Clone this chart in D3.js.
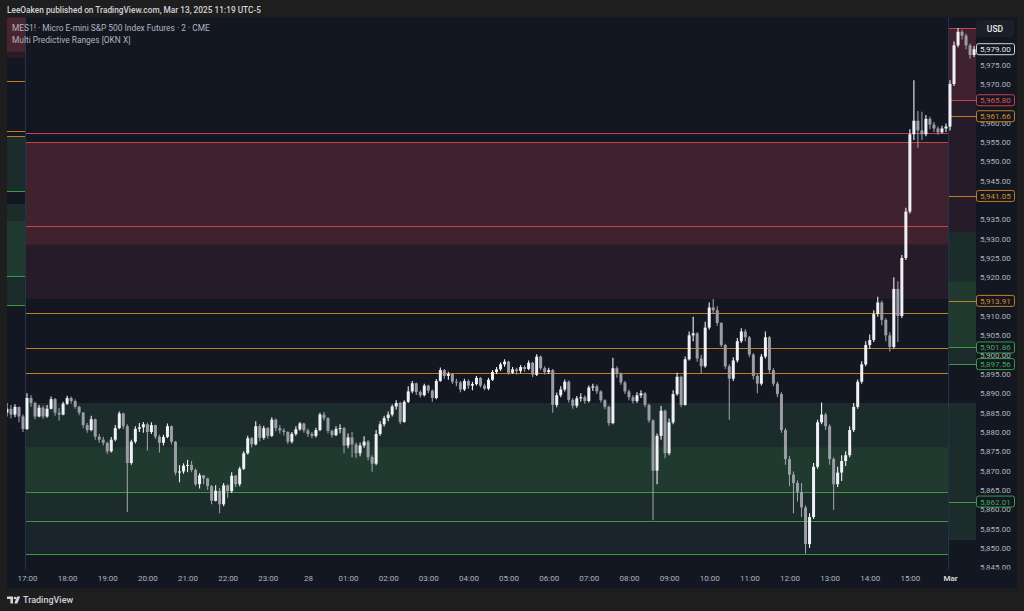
<!DOCTYPE html>
<html><head><meta charset="utf-8">
<script src="https://cdn.jsdelivr.net/npm/d3@7"></script>
<style>html,body{margin:0;padding:0;background:#1e1e1e;overflow:hidden}svg{display:block}</style>
</head><body>
<script>
// ---------- DATA ----------
const firstOpen = 5885;
const closes = [
5886,5884.5,5886.5,5884,5880.8,5888.8,5887.5,5884,5886.3,5884,
5886,5888.5,5885,5884.5,5887.3,5888.8,5888,5886.5,5885,5881.8,
5880.5,5883.3,5878.8,5878,5877.2,5875,5878,5881,5884.8,5881.5,
5872,5877.5,5880.8,5881.2,5882,5880,5881.8,5878.8,5877.2,5878.7,
5881.5,5877.5,5869.5,5869.8,5871.3,5871.5,5870.2,5866.5,5868.8,5868,
5866,5862.2,5864.8,5861.3,5866.2,5864.7,5868.7,5866.5,5870.5,5874.5,
5878.4,5876.8,5881.5,5878.5,5881,5879,5883.2,5881,5880.4,5880,
5877.5,5879.5,5880.7,5882.2,5880.4,5879.5,5879,5880.5,5884.5,5883.6,
5880.3,5879.2,5880.8,5881,5876.5,5878.6,5876.8,5874.5,5876.5,5877.5,
5873.5,5871.8,5879.5,5882,5883.6,5884.5,5886.6,5887.5,5882.6,5887.8,
5890.5,5892.6,5890.3,5889.5,5892,5890.7,5888.8,5893.2,5896,5894.5,
5895,5893,5892.8,5891,5893.2,5892,5892.4,5894,5892,5891.2,
5893.5,5895.5,5896.2,5897.5,5898.2,5895.3,5896.2,5895.8,5896.8,5896.3,
5897.9,5894.8,5899.5,5896.5,5895.5,5896,5887,5889.5,5891,5893,
5888.3,5886.8,5888.7,5889,5888,5891.5,5891.8,5890.5,5888.2,5886.5,
5882.3,5896.5,5895,5892.8,5890.5,5889,5888,5889.5,5890,5887,
5883,5870,5879,5885.5,5874.5,5882.5,5889.8,5894.3,5887,5898.8,
5905,5905.5,5899,5897,5907,5912.2,5911.5,5908.2,5902.5,5897,
5893.8,5898.5,5903.5,5906,5904.5,5900,5894.5,5892.5,5899.5,5904.5,
5896,5892.5,5889.8,5880.5,5873,5869,5866.8,5864.5,5860.5,5851,
5858,5871,5882.5,5884.5,5881.5,5873,5866.5,5869.5,5872.5,5874,
5880.5,5886.5,5893,5897.5,5902.5,5903.8,5910.5,5913.5,5909,5905,
5902,5917,5910,5925,5937,5957,5960.5,5958,5957,5961,
5959.5,5958.5,5957.5,5958.5,5959,5970,5980,5983.5,5982.5,5980,
5977.5,5979];
const highs = [
5887.5,5887,5887.2,5886.5,5884.5,5890,5889.5,5887.8,5887,5886.8,
5887,5889.2,5888.8,5886.2,5887.8,5889.4,5889.2,5888.5,5886.8,5885.2,
5882.3,5884.2,5883.5,5879.5,5878.8,5877.5,5878.7,5881.8,5885.3,5885,
5882,5878,5881.5,5882.3,5882.6,5882.4,5882.5,5881.9,5879.3,5879.3,
5882.2,5881.7,5877.7,5871.4,5871.9,5872.8,5872.5,5870.6,5869.3,5868.8,
5868.2,5866.3,5866.2,5865.5,5866.8,5866.5,5869.6,5868.9,5871,5875,
5879,5878.7,5882.8,5882,5881.6,5881.3,5883.8,5883.5,5881.8,5881,
5880.2,5880,5881.5,5882.6,5882.4,5880.9,5880,5881.1,5885,5885.2,
5883.8,5880.6,5881.5,5882,5881.3,5879.6,5880,5877.3,5877.2,5878.9,
5877.9,5874,5880.5,5882.8,5884.2,5885.3,5887.1,5888.2,5887.8,5888.2,
5891.8,5893.2,5892.8,5890.8,5892.5,5892.2,5891,5893.7,5896.7,5896.3,
5895.6,5895.2,5893.8,5893.2,5893.8,5893.6,5893,5894.5,5894.2,5892.5,
5894,5896,5896.8,5898,5898.8,5898.4,5896.8,5896.6,5897.3,5897.2,
5898.5,5898.2,5900.1,5899.8,5897,5896.6,5896.3,5890.2,5891.8,5893.6,
5893.3,5888.8,5889.3,5890,5889.5,5892,5892.5,5892.3,5890.8,5888.5,
5886.8,5899.2,5897,5895.4,5893.2,5890.9,5889.5,5890.3,5890.8,5890.3,
5887.4,5883.3,5879.6,5886.8,5885.8,5883.5,5890.8,5895.3,5894.6,5899.5,
5906,5909.8,5905.8,5900,5908.5,5913.5,5914.4,5912.5,5908.4,5902.8,
5897.5,5899.3,5904.3,5906.8,5906.6,5904.8,5900.4,5895,5900.2,5906,
5904.8,5896.5,5893,5890.3,5881,5873.8,5869.8,5867.5,5866.8,5861,
5859,5872,5883.2,5887.6,5885,5882,5873.5,5871,5874,5875,
5881.5,5887.5,5893.6,5898.3,5903.5,5905.2,5911.5,5915,5914,5909.5,
5905.8,5920,5919,5925.8,5938,5958.3,5971,5963,5962.8,5962,
5961.5,5960.2,5959,5959.2,5959.8,5971,5981,5984.5,5984,5983,
5980.5,5979.8];
const lows = [
5884,5883.5,5883.8,5882.5,5880,5880.5,5886.5,5883.3,5883.8,5883.4,
5883.7,5885.8,5884.2,5883,5884.3,5887,5887.3,5886,5884.3,5881,
5879.8,5880.2,5878,5877.2,5876.5,5874.4,5874.7,5877.6,5880.7,5880.8,
5859.3,5871.5,5877,5880,5879.8,5875.2,5879.5,5878.2,5874.7,5876.5,
5878.4,5876.8,5868.8,5867,5869.2,5869.6,5869.6,5866,5865.4,5866.5,
5865,5861.3,5862,5859,5860.8,5863,5864.2,5865.8,5866,5870.2,
5874.2,5876,5876.5,5877.6,5878,5878.3,5878.7,5880.2,5879.6,5879.1,
5876.9,5877,5879,5880.3,5879.8,5878.8,5878.4,5878.6,5880.2,5883,
5879.7,5878.6,5878.9,5879.7,5874.5,5875.8,5873.5,5873.3,5873.7,5875.9,
5872.7,5869.7,5871.4,5879,5881.4,5882.8,5884,5885.8,5882,5882.4,
5887.5,5890,5889.6,5888.9,5889.2,5890,5887.8,5888.5,5893,5893.8,
5893.5,5892.4,5891.8,5890.3,5890.6,5891.2,5890.8,5892,5891.5,5890.8,
5890.8,5893.2,5895,5895.8,5896.9,5894.8,5895,5894.9,5895.2,5895.6,
5896,5894.2,5894.5,5896,5894.9,5895,5885,5886.4,5889,5890.5,
5887.6,5886,5886.3,5887.8,5887.3,5887.6,5890.6,5889.8,5887.6,5885.9,
5881.6,5882,5894,5892.2,5889.8,5888.2,5887.4,5887.5,5888.8,5886.4,
5882.4,5857.2,5866.5,5878,5873.2,5874,5882,5889.4,5886.4,5886.8,
5898.5,5903.5,5898.2,5895.2,5896.6,5906.5,5910.5,5907.5,5902,5896.3,
5883.2,5893.2,5898,5903,5903.5,5899.3,5893.6,5890,5892,5899,
5895.2,5891.8,5889,5879.8,5871.5,5866,5859,5862,5858,5848.6,
5850,5857.5,5870.5,5882,5880.5,5871.5,5859.8,5865.8,5867.3,5871.2,
5873.5,5880,5886,5892.5,5897,5901.5,5903.3,5909.8,5907.6,5903.5,
5900.8,5901.5,5903.3,5909.5,5924.5,5936.5,5955.5,5953.5,5955.5,5956.5,
5958.3,5957.6,5956.9,5957.2,5957.6,5958,5969.5,5979.5,5981.5,5979,
5976.5,5977];

const timeTickLabels = ["17:00","18:00","19:00","20:00","21:00","22:00","23:00","28","01:00","02:00","03:00","04:00","05:00","06:00","07:00","08:00","09:00","10:00","11:00","12:00","13:00","14:00","15:00","Mar"];
const timeTickBars = [5,15,25,35,45,55,65,75,85,95,105,115,125,135,145,155,165,175,185,195,205,215,225,235];
// ticks fully covered by price tags in the reference (5940, 5965, 5980) are not shown
const priceTicks = [5845,5850,5855,5860,5865,5870,5875,5880,5885,5890,5895,5900,5905,5910,5915,5920,5925,5930,5935,5945,5950,5955,5960,5970,5975];

// sessions: [firstBar-0.5, lastBar+0.5]
const prevSession = [-1.5, 4.5];
const mainSession = [4.5, 234.5];
const marSession = [234.5, 241.6];

// range bands: [upper price, lower price, kind]
const prevBands = [[5987.5,5978.3,"redBright"],[5978.3,5976.7,"redWeak"],[5956.5,5942.3,"greenWeak"],[5939.0,5934.6,"greenWeak"],[5934.6,5920.3,"greenStrong"],[5920.3,5912.8,"greenWeak"]];
const prevLevels = [[5970.8,"orange"],[5957.8,"orange"],[5956.5,"orange"],[5942.3,"green"],[5920.3,"green"],[5912.8,"green"]];
const mainBands = [[5955.0,5928.4,"redStrong"],[5928.4,5914.4,"redWeak"],[5887.5,5876.1,"greenWeak"],[5876.1,5864.5,"greenStrong"],[5864.5,5857.0,"greenWeak"],[5857.0,5848.5,"greenFaint"]];
const mainLevels = [[5957.3,"red"],[5955.0,"red"],[5933.3,"red"],[5910.8,"orange"],[5901.7,"orange"],[5895.3,"orange"],[5864.5,"green"],[5857.0,"green"],[5848.5,"green"]];
const marBands = [[5984.5,5965.8,"redStrong"],[5965.8,5931.7,"redWeak"],[5931.7,5919.0,"greenWeak"],[5919.0,5901.86,"greenStrong"],[5901.86,5897.56,"greenWeak"],[5887.5,5852.0,"greenWeak"]];
const marLevels = [[5984.5,"red"],[5965.8,"red"],[5961.66,"orange"],[5941.05,"orange"],[5913.91,"orange"],[5901.86,"green"],[5897.56,"green"],[5862.01,"green"]];

const priceTags = [[5979.00,"last"],[5965.80,"red"],[5961.66,"orange"],[5941.05,"orange"],[5913.91,"orange"],[5901.86,"green"],[5897.56,"green"],[5862.01,"green"]];

const headerText = "LeeOaken published on TradingView.com, Mar 13, 2025 11:19 UTC-5";
const legendLines = ["MES1! · Micro E-mini S&P 500 Index Futures · 2 · CME","Multi Predictive Ranges [OKN X]"];

// ---------- STYLE ----------
const bandFill = {redBright:"#4a2430",redStrong:"#40212e",redWeak:"#261b28",greenStrong:"#213a30",greenWeak:"#1b2c2b",greenFaint:"#19252a"};
const lineColor = {red:"#c9404d",orange:"#c47d1e",green:"#3b9a47",last:"#d1d4dc"};
const tagText = {red:"#e0505c",orange:"#d98d26",green:"#45a852",last:"#e6e8ee"};
const FONT = "Roboto, 'Liberation Sans', sans-serif";

// ---------- DRAW ----------
const W = 1024, H = 611;
const svg = d3.select("body").append("svg").attr("width", W).attr("height", H);
svg.append("rect").attr("width", W).attr("height", H).attr("fill", "#1e1e1e");
svg.append("rect").attr("x", 7).attr("y", 17.5).attr("width", 1010).attr("height", 571).attr("fill", "#131722");

const x = d3.scaleLinear().domain([5, 235]).range([27, 950]);
const y = d3.scaleLinear().domain([5850, 5970]).range([548, 84]);

const defs = svg.append("defs");
defs.append("clipPath").attr("id", "plotClip").append("rect").attr("x", 7).attr("y", 17.5).attr("width", 969).attr("height", 552);
defs.append("clipPath").attr("id", "axisClip").append("rect").attr("x", 976).attr("y", 17.5).attr("width", 41).attr("height", 552);

const plot = svg.append("g").attr("clip-path", "url(#plotClip)");

function drawSession(sess, bands, levels, extendRight) {
  const x0 = x(sess[0]), x1 = extendRight ? 977 : x(sess[1]);
  plot.append("g").selectAll("rect").data(bands).join("rect")
    .attr("x", x0).attr("width", x1 - x0)
    .attr("y", d => y(d[0])).attr("height", d => y(d[1]) - y(d[0]))
    .attr("fill", d => bandFill[d[2]]);
  plot.append("g").selectAll("line").data(levels).join("line")
    .attr("x1", x0).attr("x2", x1)
    .attr("y1", d => Math.round(y(d[0])) + 0.5).attr("y2", d => Math.round(y(d[0])) + 0.5)
    .attr("stroke", d => lineColor[d[1]]).attr("stroke-width", 1);
}
drawSession(prevSession, prevBands, prevLevels, false);
drawSession(mainSession, mainBands, mainLevels, false);
drawSession(marSession, marBands, marLevels, true);

// session breaks
plot.append("g").selectAll("line").data([mainSession[0], marSession[0]]).join("line")
  .attr("x1", d => Math.round(x(d)) + 0.5).attr("x2", d => Math.round(x(d)) + 0.5)
  .attr("y1", 17.5).attr("y2", 570).attr("stroke", "#243352").attr("stroke-width", 1);

// candles
const bars = closes.map((c, i) => {
  const o = i === 0 ? firstOpen : closes[i - 1];
  return {i, o, c, h: Math.max(highs[i], o, c), l: Math.min(lows[i], o, c)};
});
const upCol = "#f0f1f4", dnCol = "#9a9da6";
const cg = plot.append("g");
cg.selectAll("line").data(bars).join("line")
  .attr("x1", d => x(d.i)).attr("x2", d => x(d.i))
  .attr("y1", d => y(d.h)).attr("y2", d => y(d.l))
  .attr("stroke", d => d.c >= d.o ? upCol : dnCol).attr("stroke-width", 1.1);
cg.selectAll("rect").data(bars).join("rect")
  .attr("x", d => x(d.i) - 1.5).attr("width", 3)
  .attr("y", d => y(Math.max(d.o, d.c)))
  .attr("height", d => Math.max(1, Math.abs(y(d.o) - y(d.c))))
  .attr("fill", d => d.c >= d.o ? upCol : dnCol);

// price axis
const pAxis = svg.append("g").attr("clip-path", "url(#axisClip)").append("g")
  .attr("transform", "translate(980,0)")
  .call(d3.axisRight(y).tickValues(priceTicks).tickFormat(d3.format(",.2f")).tickSize(0).tickPadding(0));
pAxis.select(".domain").remove();
pAxis.selectAll("text").attr("font-family", FONT).attr("font-size", 8).attr("fill", "#b2b5be").attr("text-anchor", "start");

// price tags
const tg = svg.append("g");
tg.selectAll("rect").data(priceTags).join("rect")
  .attr("x", 976.5).attr("width", 38).attr("y", d => y(d[0]) - 5.5).attr("height", 11).attr("rx", 2)
  .attr("fill", "#131722").attr("stroke", d => lineColor[d[1]]).attr("stroke-width", 1);
tg.selectAll("text").data(priceTags).join("text")
  .attr("x", 980).attr("y", d => y(d[0]) + 3)
  .attr("font-family", FONT).attr("font-size", 8).attr("fill", d => tagText[d[1]])
  .text(d => d3.format(",.2f")(d[0]));

// USD box
svg.append("rect").attr("x", 976).attr("y", 20).attr("width", 38).attr("height", 17).attr("rx", 3).attr("fill", "#1c1f27");
svg.append("text").attr("x", 995).attr("y", 31.5).attr("text-anchor", "middle")
  .attr("font-family", FONT).attr("font-size", 8.5).attr("font-weight", 500).attr("fill", "#e6e8ee").text("USD");

// time axis
const tAxis = svg.append("g").attr("transform", "translate(0,572)")
  .call(d3.axisBottom(x).tickValues(timeTickBars).tickFormat((d, i) => timeTickLabels[i]).tickSize(0).tickPadding(3));
tAxis.select(".domain").remove();
tAxis.selectAll("text").attr("font-family", FONT).attr("font-size", 8)
  .attr("font-weight", (d, i) => timeTickLabels[i] === "Mar" ? 700 : 400)
  .attr("fill", (d, i) => timeTickLabels[i] === "Mar" ? "#d1d4dc" : "#b2b5be");

// header + legend
svg.append("text").attr("x", 7).attr("y", 13).attr("font-family", FONT).attr("font-size", 8.3)
  .attr("font-weight", 500).attr("fill", "#d1d4dc").text(headerText);
svg.append("g").selectAll("text").data(legendLines).join("text")
  .attr("x", 12).attr("y", (d, i) => 31 + i * 11.5)
  .attr("font-family", FONT).attr("font-size", 8.4).attr("fill", "#b2b5be").text(d => d);

// footer logo
const logo = svg.append("g").attr("fill", "#d1d4dc");
logo.append("path").attr("d", "M7 596.5 H13 V603.5 H10.4 V598.9 H7 Z");
logo.append("circle").attr("cx", 15).attr("cy", 598).attr("r", 1.3);
logo.append("path").attr("d", "M17 596.5 H20.2 L17.4 603.5 H14.3 Z");
svg.append("text").attr("x", 23).attr("y", 603.3).attr("font-family", FONT).attr("font-size", 9)
  .attr("font-weight", 500).attr("fill", "#d1d4dc").text("TradingView");
</script>
</body></html>
